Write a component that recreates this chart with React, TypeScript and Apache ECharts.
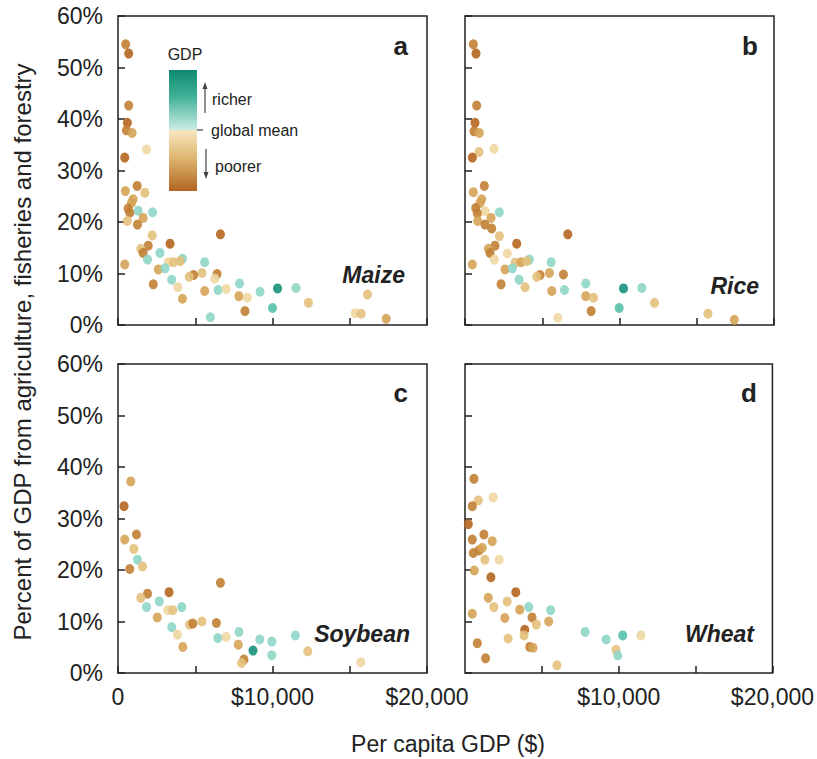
import React, { useEffect, useRef } from "react";
import * as echarts from "echarts";

// ---------- data ----------
const cropNames = ["Maize", "Rice", "Soybean", "Wheat"];
const panelLetters = ["a", "b", "c", "d"];

const xTickValues = [0, 5000, 10000, 15000, 20000];
const xTickLabels = ["0", "", "$10,000", "", "$20,000"];
const yTickValues = [0, 10, 20, 30, 40, 50, 60];
const yTickLabels = ["0%", "10%", "20%", "30%", "40%", "50%", "60%"];

const maizeGdp = [497, 692, 692, 609, 544, 913, 1848, 435, 1239, 478, 1739, 978, 870, 652, 1304, 2239, 761, 609, 1630, 1261, 2217, 6631, 3370, 1957, 1478, 1630, 2717, 1913, 4174, 3261, 3587, 4022, 5609, 435, 2609, 3043, 5435, 4892, 4609, 6413, 6261, 2283, 3478, 3870, 5609, 6478, 7000, 7870, 7826, 8370, 9196, 10326, 11522, 4174, 8217, 10000, 5978, 12326, 16150, 15350, 15739, 17360];
const maizeShare = [54.5, 52.7, 42.6, 39.25, 37.8, 37.3, 34.1, 32.5, 27.0, 26.0, 25.7, 24.4, 23.7, 22.6, 22.2, 21.9, 21.8, 20.2, 20.8, 19.5, 17.4, 17.6, 15.8, 15.4, 14.8, 14.0, 14.0, 12.7, 12.85, 12.2, 12.2, 12.4, 12.2, 11.75, 10.8, 11.0, 10.1, 9.7, 9.35, 9.9, 9.0, 7.9, 8.8, 7.35, 6.6, 6.8, 7.0, 8.07, 5.6, 5.3, 6.45, 7.1, 7.2, 5.1, 2.7, 3.3, 1.5, 4.3, 5.9, 2.3, 2.2, 1.2];
const maizeTone = ["br", "dk", "br", "dk", "br", "tn", "lb", "dk", "br", "tn", "lt", "tn", "tn", "br", "lc", "lc", "br", "lt", "tn", "br", "lt", "dk", "dk", "br", "lt", "br", "lc", "lc", "lc", "lb", "lt", "lt", "lc", "tn", "tn", "lc", "lt", "br", "lt", "br", "lb", "br", "lc", "lb", "tn", "lc", "lb", "lc", "tn", "lb", "lc", "dt", "lc", "tn", "br", "mt", "lc", "lt", "lt", "lb", "lt", "tn"];

const riceGdp = [540, 713, 756, 648, 583, 929, 907, 1879, 475, 1253, 540, 1080, 972, 691, 1296, 2225, 799, 1685, 821, 1296, 1728, 2225, 6653, 3348, 1944, 1512, 1620, 2743, 1901, 4169, 3240, 3629, 3996, 5573, 475, 2592, 3067, 5465, 4860, 4644, 6372, 2333, 3499, 3888, 5616, 6437, 7819, 7819, 8316, 10260, 11448, 8165, 9979, 6005, 12269, 15725, 17431];
const riceShare = [54.5, 52.7, 42.6, 39.25, 37.6, 37.3, 33.6, 34.2, 32.5, 27.0, 25.8, 24.4, 23.7, 22.7, 22.1, 21.9, 21.66, 20.8, 20.2, 19.5, 18.74, 17.25, 17.6, 15.8, 15.4, 14.8, 14.0, 13.9, 12.7, 12.7, 12.1, 12.2, 12.4, 12.2, 11.75, 10.8, 11.0, 10.1, 9.7, 9.35, 9.8, 7.9, 8.8, 7.35, 6.6, 6.8, 8.07, 5.6, 5.3, 7.1, 7.2, 2.7, 3.3, 1.4, 4.3, 2.2, 1.0];
const riceTone = ["br", "dk", "br", "dk", "br", "tn", "lt", "lb", "dk", "br", "tn", "tn", "tn", "br", "lb", "lc", "br", "tn", "tn", "br", "br", "lt", "dk", "dk", "br", "tn", "br", "lb", "lb", "lc", "lt", "tn", "lt", "lc", "tn", "tn", "lc", "tn", "br", "lt", "br", "br", "lc", "lt", "tn", "lc", "lc", "tn", "lt", "dt", "lc", "br", "mt", "lb", "lt", "lt", "tn"];

const soyGdp = [826, 391, 1196, 435, 1022, 1261, 1587, 761, 6631, 3304, 1913, 1478, 2674, 1848, 4130, 3217, 3543, 2544, 3478, 4630, 4848, 5435, 6370, 3848, 4196, 6457, 7000, 7826, 7783, 8739, 9174, 9957, 9957, 11478, 8152, 8000, 12283, 15718];
const soyShare = [37.2, 32.4, 26.9, 25.9, 24.1, 22.0, 20.7, 20.2, 17.5, 15.7, 15.4, 14.6, 13.9, 12.8, 12.8, 12.2, 12.2, 10.8, 8.9, 9.4, 9.6, 10.0, 9.7, 7.45, 5.06, 6.8, 7.0, 7.97, 5.5, 4.35, 6.5, 6.1, 3.45, 7.3, 2.6, 1.95, 4.2, 2.1];
const soyTone = ["tn", "dk", "br", "tn", "lt", "lc", "lt", "br", "br", "dk", "br", "lt", "lc", "lc", "lc", "lb", "lt", "tn", "lc", "lt", "br", "lt", "br", "lb", "tn", "lc", "lb", "lc", "tn", "dt", "lc", "lc", "lc", "lc", "br", "lt", "lt", "lb"];

const wheatGdp = [583, 864, 1836, 475, 216, 1231, 475, 1771, 540, 907, 1123, 1296, 2225, 605, 1685, 3305, 1512, 1879, 2743, 3564, 4147, 5573, 475, 2592, 4363, 4644, 5443, 3888, 3845, 2808, 799, 4212, 4428, 1339, 5983, 7819, 9180, 10260, 11448, 9828, 9936];
const wheatShare = [37.7, 33.5, 34.1, 32.4, 28.9, 26.9, 25.9, 25.6, 23.3, 23.8, 24.3, 22.0, 22.0, 19.9, 18.6, 15.7, 14.6, 12.8, 13.9, 12.3, 12.8, 12.2, 11.5, 10.7, 10.8, 9.4, 10.0, 8.4, 7.3, 6.7, 5.8, 5.06, 4.9, 2.85, 1.5, 7.97, 6.5, 7.3, 7.3, 4.5, 3.4];
const wheatTone = ["br", "lt", "lb", "br", "dk", "br", "br", "tn", "br", "br", "tn", "lt", "lb", "tn", "dk", "dk", "tn", "lt", "lt", "tn", "lc", "lc", "tn", "tn", "br", "lt", "tn", "dk", "lt", "lt", "br", "br", "tn", "br", "lt", "lc", "lc", "mt", "lb", "lt", "lc"];

// ---------- styles ----------
const palette: Record<string, string> = {
  dk: "#b5661f",
  br: "#c27f35",
  tn: "#d5a356",
  lt: "#e4c07c",
  lb: "#eed8a2",
  lc: "#8ed6c7",
  mt: "#55c0a8",
  dt: "#16927a",
};

const FONT = '"Liberation Sans", Arial, Helvetica, sans-serif';
const INK = "#222";

const grids = [
  { left: 118, top: 16 },
  { left: 465, top: 16 },
  { left: 118, top: 364 },
  { left: 465, top: 364 },
];
const PW = 309;
const PH = 309;

const cropData = [
  [maizeGdp, maizeShare, maizeTone],
  [riceGdp, riceShare, riceTone],
  [soyGdp, soyShare, soyTone],
  [wheatGdp, wheatShare, wheatTone],
] as [number[], number[], string[]][];

// label positions (right edge, middle y) for crop names
const cropPos = [
  [405, 275],
  [759, 286],
  [410, 634],
  [754, 634],
];

export default function App() {
  const ref = useRef<HTMLDivElement>(null);

  useEffect(() => {
    if (!ref.current) return;
    const chart = echarts.init(ref.current, undefined, { renderer: "svg" });

    const gridOpt = grids.map((g) => ({
      left: g.left,
      top: g.top,
      width: PW,
      height: PH,
      show: true,
      borderColor: INK,
      borderWidth: 1.5,
      backgroundColor: "transparent",
      containLabel: false,
    }));

    const xAxes = grids.map((_, i) => ({
      type: "value",
      gridIndex: i,
      min: 0,
      max: 20000,
      interval: 5000,
      axisLine: { show: false },
      splitLine: { show: false },
      axisTick: { show: true, inside: true, length: 7, lineStyle: { color: INK, width: 1.5 } },
      axisLabel: {
        show: i >= 2,
        showMinLabel: i === 2,
        showMaxLabel: true,
        margin: 12,
        fontSize: 23,
        fontFamily: FONT,
        color: INK,
        formatter: (v: number) => {
          if (i === 3 && v === 0) return "";
          const k = xTickValues.indexOf(v);
          return k >= 0 ? xTickLabels[k] : "";
        },
      },
    }));

    const yAxes = grids.map((_, i) => ({
      type: "value",
      gridIndex: i,
      min: 0,
      max: 60,
      interval: 10,
      axisLine: { show: false },
      splitLine: { show: false },
      axisTick: { show: true, inside: true, length: 7, lineStyle: { color: INK, width: 1.5 } },
      axisLabel: {
        show: i % 2 === 0,
        showMinLabel: true,
        showMaxLabel: true,
        margin: 15,
        fontSize: 23,
        fontFamily: FONT,
        color: INK,
        formatter: (v: number) => {
          const k = yTickValues.indexOf(v);
          return k >= 0 ? yTickLabels[k] : "";
        },
      },
    }));

    const series = cropData.map(([xs, ys, tones], i) => ({
      type: "scatter",
      name: cropNames[i],
      xAxisIndex: i,
      yAxisIndex: i,
      symbol: "circle",
      symbolSize: [9, 10],
      clip: false,
      itemStyle: { opacity: 0.9 },
      data: xs.map((x, k) => ({
        value: [x, ys[k]],
        itemStyle: { color: palette[tones[k]] },
      })),
    }));

    const txt = (
      text: string,
      x: number,
      y: number,
      font: string,
      align: string,
      extra: any = {}
    ) => ({
      type: "text",
      x,
      y,
      silent: true,
      ...extra,
      style: {
        text,
        font,
        fill: INK,
        align,
        verticalAlign: "middle",
        textAlign: align,
        textVerticalAlign: "middle",
      },
    });

    const graphics: any[] = [];
    // panel letters
    const letterPos = [
      [408, 46],
      [758, 46],
      [408, 393],
      [757, 393],
    ];
    panelLetters.forEach((l, i) => {
      graphics.push(txt(l, letterPos[i][0], letterPos[i][1], `bold 26px ${FONT}`, "right"));
    });
    cropNames.forEach((c, i) => {
      graphics.push(txt(c, cropPos[i][0], cropPos[i][1], `italic bold 23px ${FONT}`, "right"));
    });
    // axis titles
    graphics.push(txt("Per capita GDP ($)", 448, 744, `23px ${FONT}`, "center"));
    graphics.push(
      txt("Percent of GDP from agriculture, fisheries and forestry", 22, 352, `24px ${FONT}`, "center", {
        rotation: Math.PI / 2,
      })
    );
    // legend (colour bar)
    graphics.push(txt("GDP", 185, 54, `16px ${FONT}`, "center"));
    graphics.push({
      type: "rect",
      silent: true,
      shape: { x: 169, y: 70, width: 28, height: 121 },
      style: {
        fill: {
          type: "linear",
          x: 0,
          y: 0,
          x2: 0,
          y2: 1,
          colorStops: [
            { offset: 0, color: "#0e8a70" },
            { offset: 0.22, color: "#40b198" },
            { offset: 0.495, color: "#cdece5" },
            { offset: 0.5, color: "#f6e6bf" },
            { offset: 0.72, color: "#e0b873" },
            { offset: 1, color: "#b0651f" },
          ],
        },
      },
    });
    const arrowColor = "#444";
    graphics.push({
      type: "line",
      silent: true,
      shape: { x1: 205, y1: 113, x2: 205, y2: 88 },
      style: { stroke: arrowColor, lineWidth: 1.2 },
    });
    graphics.push({
      type: "polygon",
      silent: true,
      shape: { points: [[202.5, 89], [207.5, 89], [205, 82]] },
      style: { fill: arrowColor },
    });
    graphics.push({
      type: "line",
      silent: true,
      shape: { x1: 206, y1: 149, x2: 206, y2: 173 },
      style: { stroke: arrowColor, lineWidth: 1.2 },
    });
    graphics.push({
      type: "polygon",
      silent: true,
      shape: { points: [[203.5, 172], [208.5, 172], [206, 179]] },
      style: { fill: arrowColor },
    });
    graphics.push({
      type: "line",
      silent: true,
      shape: { x1: 197, y1: 130, x2: 203, y2: 130 },
      style: { stroke: arrowColor, lineWidth: 1.2 },
    });
    graphics.push(txt("richer", 212, 99, `16px ${FONT}`, "left"));
    graphics.push(txt("global mean", 211, 130, `16px ${FONT}`, "left"));
    graphics.push(txt("poorer", 215, 166, `16px ${FONT}`, "left"));

    chart.setOption({
      animation: false,
      backgroundColor: "#ffffff",
      textStyle: { fontFamily: FONT },
      grid: gridOpt,
      xAxis: xAxes,
      yAxis: yAxes,
      series,
      graphic: graphics,
    } as any);

    return () => chart.dispose();
  }, []);

  return (
    <div
      ref={ref}
      style={{ position: "absolute", left: 0, top: 0, width: 817, height: 759 }}
    />
  );
}
